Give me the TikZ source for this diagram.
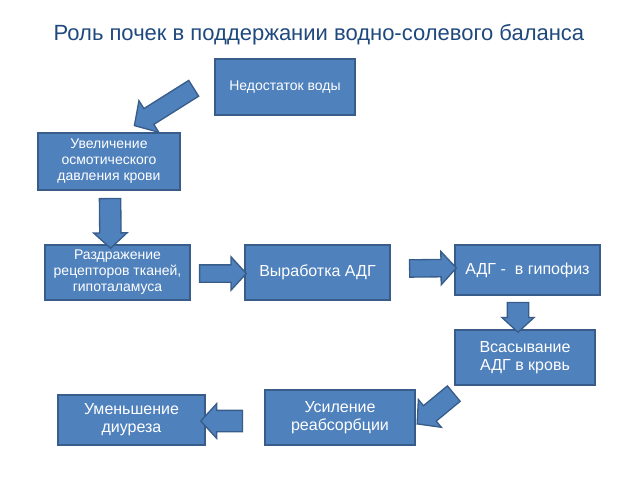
\documentclass[tikz,border=0pt]{standalone}
\usepackage{fontspec}
\setmainfont{Liberation Sans}
\usetikzlibrary{calc,shapes.arrows}
\definecolor{boxfill}{HTML}{4F81BD}
\definecolor{boxline}{HTML}{385D8A}
\definecolor{titleblue}{HTML}{1F497D}
\tikzset{
  box/.style={draw=boxline, fill=boxfill, line width=1pt, text=white,
    align=center, inner sep=0pt},
  blk/.style={single arrow, draw=boxline, fill=boxfill, line width=1pt,
    inner xsep=0pt, inner ysep=6pt, single arrow head extend=6pt,
    single arrow tip angle=95}
}
% block arrow between two points
\newcommand{\blkarrow}[3][]{%
  \path let \p1=(#2), \p2=(#3), \n1={atan2(\y2-\y1,\x2-\x1)},
    \n2={veclen(\x2-\x1,\y2-\y1)} in
    node[blk, rotate=\n1, minimum height=\n2, #1] at ($(\p1)!0.5!(\p2)$) {};}
\begin{document}
\begin{tikzpicture}[x=0.75pt,y=-0.75pt]
\useasboundingbox (0,0) rectangle (640,480);
% title
\node[text=titleblue, font=\fontsize{16.5}{20}\selectfont] (title) at (319,35)
  {Роль почек в поддержании водно-солевого баланса};
% boxes
\node[box, minimum width=105pt, minimum height=42pt, font=\fontsize{10.5}{12}\selectfont]
  (voda) at (285,87) {Недостаток воды};
\node[box, minimum width=106.5pt, minimum height=42.75pt, font=\fontsize{10.5}{12}\selectfont]
  (osm) at (109,161.5) {Увеличение\\осмотического\\давления крови};
\node[box, minimum width=108.75pt, minimum height=41.25pt, font=\fontsize{10.5}{12}\selectfont]
  (razd) at (117.5,272.5) {Раздражение\\рецепторов тканей,\\гипоталамуса};
\node[box, minimum width=108.75pt, minimum height=41.25pt, font=\fontsize{12}{13.5}\selectfont]
  (vyr) at (317.5,272.5) {Выработка АДГ};
\node[box, minimum width=108.75pt, minimum height=37.5pt, font=\fontsize{12}{13.5}\selectfont]
  (gip) at (527.5,270) {АДГ -~ в гипофиз};
\node[box, minimum width=105pt, minimum height=41.25pt, font=\fontsize{12}{13.5}\selectfont]
  (vsas) at (525,357.5) {Всасывание\\АДГ в кровь};
\node[box, minimum width=112.5pt, minimum height=41.25pt, font=\fontsize{12}{13.5}\selectfont]
  (reab) at (340,417.5) {Усиление\\реабсорбции};
\node[box, minimum width=110.25pt, minimum height=37.5pt, font=\fontsize{12}{13.5}\selectfont]
  (diur) at (131.5,420) {Уменьшение\\диуреза};
% arrow ends
\coordinate (a1s) at ($(voda.west)+(-17,-1)$);
\coordinate (a1e) at ($(osm.north)+(29,-9)$);
\coordinate (a2s) at ($(osm.south)+(1,3)$);
\coordinate (a2e) at ($(razd.north)+(-7,-1)$);
\coordinate (a3s) at ($(razd.east)+(5,1)$);
\coordinate (a3e) at ($(vyr.west)+(-2,1)$);
\coordinate (a4s) at ($(vyr.east)+(15,-4)$);
\coordinate (a4e) at ($(gip.west)+(-2,-2)$);
\coordinate (a5s) at ($(gip.south)+(-9.5,2)$);
\coordinate (a5e) at ($(vsas.north)+(-7,-2)$);
\coordinate (a6s) at ($(vsas.south west)+(3,5)$);
\coordinate (a6e) at ($(reab.east)+(5,3.5)$);
\coordinate (a7s) at ($(reab.west)+(-17,3.5)$);
\coordinate (a7e) at ($(diur.east)+(0,1)$);
% arrows
\blkarrow[inner ysep=6.5pt, single arrow head extend=7pt]{a1s}{a1e}
\blkarrow[inner ysep=7.5pt, single arrow head extend=4.5pt]{a2s}{a2e}
\blkarrow{a3s}{a3e}
\blkarrow{a4s}{a4e}
\blkarrow[inner ysep=7.5pt, single arrow head extend=4pt]{a5s}{a5e}
\blkarrow[inner ysep=7pt]{a6s}{a6e}
\blkarrow[inner ysep=7.5pt, single arrow head extend=5pt]{a7s}{a7e}
\end{tikzpicture}
\end{document}
